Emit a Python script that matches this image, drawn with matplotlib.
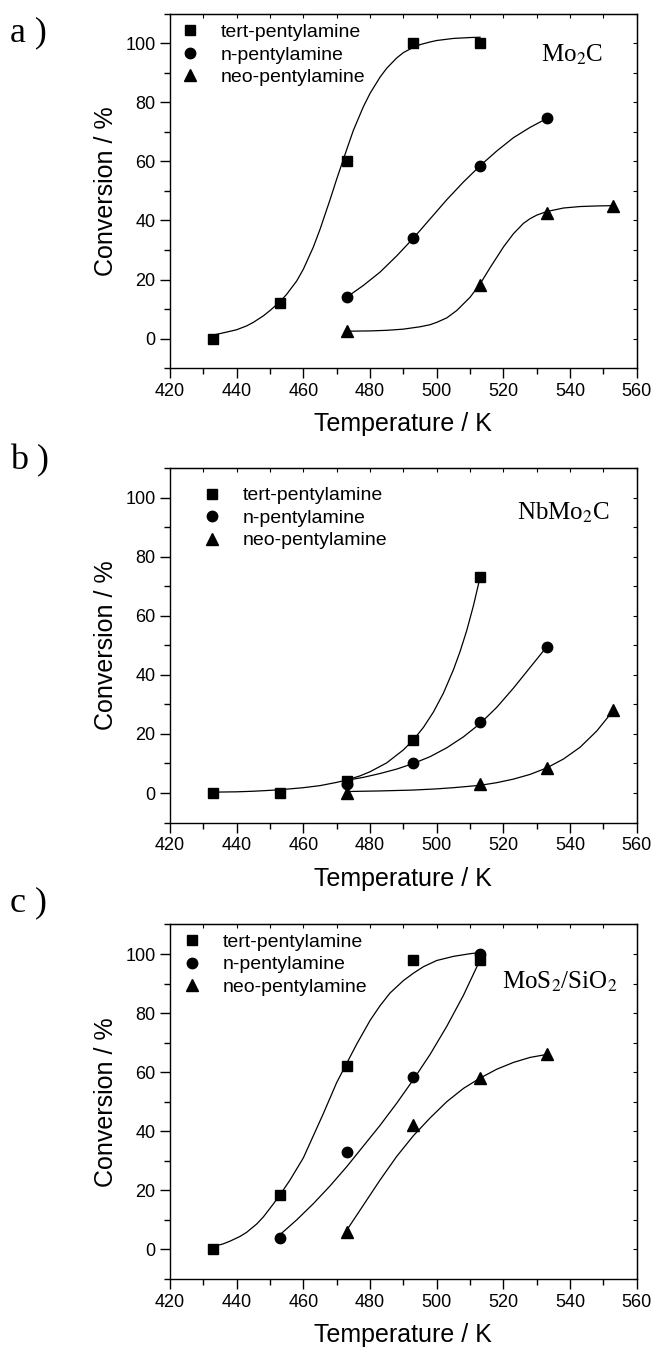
import numpy as np
import matplotlib
matplotlib.use('Agg')
import matplotlib.pyplot as plt
from matplotlib.ticker import MultipleLocator

plt.rcParams['font.family'] = ['Liberation Sans', 'DejaVu Sans']
plt.rcParams['mathtext.fontset'] = 'stix'

# measured points (temperature in K, conversion in %)
T_tert = [433, 453, 473, 493, 513]
T_n_ac = [473, 493, 513, 533]
T_n_c = [453, 473, 493, 513]
T_neo_ab = [473, 513, 533, 553]
T_neo_c = [473, 493, 513, 533]

a_tert = [0, 12, 60, 100, 100]
a_n = [14, 34, 58.5, 74.5]
a_neo = [2.5, 18, 42.5, 45]

b_tert = [0, 0, 4, 18, 73]
b_n = [3, 10, 24, 49.5]
b_neo = [0, 3, 8.5, 28]

c_tert = [0, 18.5, 62, 98, 98]
c_n = [4, 33, 58.5, 100]
c_neo = [6, 42, 58, 66]

# fitted curves
a_tert_fit_T = [433, 437, 440, 443, 445, 448, 450, 453, 455, 458, 460, 463, 465, 468, 470, 473, 475, 478, 480,
                483, 485, 488, 490, 493, 495, 498, 500, 505, 510, 513]
a_tert_fit = [1.2, 2.2, 3, 4.3, 5.5, 7.7, 9.5, 12.5, 15, 19.5, 23.5, 31, 37, 47, 54, 64, 70.5, 78.5, 83,
              88.5, 91.5, 95, 96.8, 98.6, 99.5, 100.4, 100.9, 101.6, 101.9, 102]
a_n_fit_T = [473, 478, 483, 488, 493, 498, 503, 508, 513, 518, 523, 528, 533]
a_n_fit = [14, 18, 22.5, 28, 34, 40.5, 47, 53, 58.5, 63.5, 68, 71.5, 74.5]
a_neo_fit_T = [473, 480, 485, 490, 495, 498, 500, 503, 506, 510, 513, 516, 520, 523, 526, 528, 530, 533, 538, 543, 548, 553]
a_neo_fit = [2.5, 2.6, 2.8, 3.2, 4, 4.7, 5.5, 7, 9.5, 14, 18.5, 24, 31, 35.5, 39, 40.6, 41.8, 43, 44.2, 44.7, 44.9, 45]

b_tert_fit_T = [433, 440, 445, 450, 455, 460, 465, 470, 473, 477, 480, 485, 490, 493, 496, 499, 502, 505, 507, 509, 511, 513]
b_tert_fit = [0.3, 0.4, 0.6, 0.9, 1.3, 1.8, 2.5, 3.6, 4.4, 5.8, 7.2, 10.2, 14.6, 18, 22.2, 27.4, 33.8, 41.7, 47.9, 55, 63.4, 73]
b_n_fit_T = [473, 478, 483, 488, 493, 498, 503, 508, 513, 518, 523, 528, 533]
b_n_fit = [4.3, 5.3, 6.6, 8.1, 10, 12.3, 15.3, 19, 23.5, 29, 35.5, 42.5, 49.5]
b_neo_fit_T = [473, 483, 493, 500, 505, 510, 513, 518, 523, 528, 533, 538, 543, 548, 553]
b_neo_fit = [0.5, 0.7, 1.0, 1.4, 1.8, 2.3, 2.6, 3.5, 4.7, 6.3, 8.5, 11.5, 15.5, 21, 28]

c_tert_fit_T = [433, 436, 438, 441, 443, 446, 448, 451, 453, 456, 460, 463, 466, 470, 473, 476, 480, 483, 486,
                490, 493, 496, 500, 505, 510, 513]
c_tert_fit = [1, 1.9, 2.8, 4.4, 5.8, 8.6, 11, 15.4, 18.5, 23.5, 31, 38.5, 46, 56.5, 63, 69.5, 77.5, 82.5, 86.8,
              91, 93.5, 95.7, 97.8, 99.2, 100.1, 100.5]
c_n_fit_T = [453, 458, 463, 468, 473, 478, 483, 488, 493, 498, 503, 508, 513]
c_n_fit = [5, 10, 15.5, 21.5, 28, 35, 42, 49.5, 57.5, 66, 75.5, 86, 98]
c_neo_fit_T = [473, 478, 483, 488, 493, 498, 503, 508, 513, 518, 523, 528, 533]
c_neo_fit = [6.5, 15, 23.5, 31.5, 38.5, 44.5, 50, 54.5, 58, 61, 63.3, 65, 66]

names = ['tert-pentylamine', 'n-pentylamine', 'neo-pentylamine']
catalysts = [r'Mo$_2$C', r'NbMo$_2$C', r'MoS$_2$/SiO$_2$']
panel_tags = ['a )', 'b )', 'c )']

fig = plt.figure(figsize=(6.52, 13.48), dpi=100)

ax_left, ax_w, ax_h = 0.2607, 0.716, 0.263
bottoms = [0.7269, 0.3898, 0.0512]
legend_pos = [(0.0225, 0.972), (0.0696, 0.947), (0.0268, 0.975)]
cat_pos = [(0.929, 0.883), (0.942, 0.873), (0.959, 0.838)]
tag_pos = [(0.016, 0.9755), (0.016, 0.658), (0.016, 0.330)]

panels = [
    [(T_tert, a_tert, a_tert_fit_T, a_tert_fit), (T_n_ac, a_n, a_n_fit_T, a_n_fit), (T_neo_ab, a_neo, a_neo_fit_T, a_neo_fit)],
    [(T_tert, b_tert, b_tert_fit_T, b_tert_fit), (T_n_ac, b_n, b_n_fit_T, b_n_fit), (T_neo_ab, b_neo, b_neo_fit_T, b_neo_fit)],
    [(T_tert, c_tert, c_tert_fit_T, c_tert_fit), (T_n_c, c_n, c_n_fit_T, c_n_fit), (T_neo_c, c_neo, c_neo_fit_T, c_neo_fit)],
]
markers = [('s', 7), ('o', 7.5), ('^', 8)]

for i in range(3):
    ax = fig.add_axes([ax_left, bottoms[i], ax_w, ax_h])
    handles = []
    for (tx, ty, fx, fy), (m, ms) in zip(panels[i], markers):
        ax.plot(fx, fy, color='black', lw=0.9)
        h, = ax.plot(tx, ty, linestyle='none', marker=m, markersize=ms, color='black')
        handles.append(h)

    ax.set_xlim(420, 560)
    ax.set_ylim(-10, 110)
    ax.xaxis.set_major_locator(MultipleLocator(20))
    ax.xaxis.set_minor_locator(MultipleLocator(10))
    ax.yaxis.set_major_locator(MultipleLocator(20))
    ax.yaxis.set_minor_locator(MultipleLocator(10))
    ax.tick_params(which='major', direction='out', length=7, width=1, labelsize=13, top=False, right=False)
    ax.tick_params(which='minor', direction='out', length=4, width=1, top=False, right=False)
    for sp in ax.spines.values():
        sp.set_linewidth(1)

    # inward ticks on top and right
    top = ax.secondary_xaxis('top')
    top.xaxis.set_major_locator(MultipleLocator(10))
    top.tick_params(direction='in', length=3, labeltop=False)
    right = ax.secondary_yaxis('right')
    right.yaxis.set_major_locator(MultipleLocator(10))
    right.tick_params(direction='in', length=3, labelright=False)

    ax.set_xlabel('Temperature / K', fontsize=18)
    ax.set_ylabel('Conversion / %', fontsize=18)
    ax.xaxis.set_label_coords(0.5, -0.124)
    ax.yaxis.set_label_coords(-0.111, 0.5)

    ax.legend(handles, names, loc='upper left', bbox_to_anchor=legend_pos[i], frameon=False,
              fontsize=14, handlelength=1.0, handletextpad=1.07, labelspacing=0.25,
              borderpad=0, borderaxespad=0)

    ax.text(cat_pos[i][0], cat_pos[i][1], catalysts[i], transform=ax.transAxes,
            ha='right', va='center', fontsize=18, family='Liberation Serif')
    fig.text(tag_pos[i][0], tag_pos[i][1], panel_tags[i], ha='left', va='center',
             fontsize=26, family='Liberation Serif')

fig.savefig('out.png', dpi=100)
